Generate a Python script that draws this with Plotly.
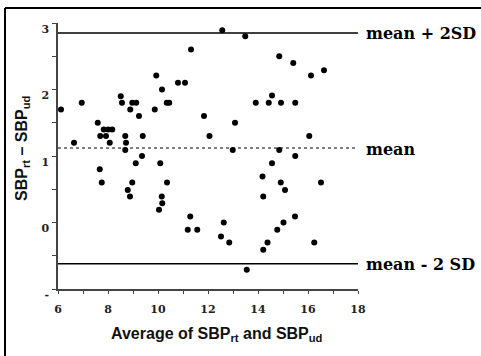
import plotly.graph_objects as go

# Data
avg_sbp = [6.12, 6.64, 6.95, 7.59, 7.83, 8.01, 8.17, 7.69, 7.92, 8.07, 7.67, 7.75,
           8.51, 8.56, 8.69, 8.72, 8.69, 8.89, 8.97, 9.13, 9.24, 9.39, 9.36, 9.11,
           8.97, 8.79, 8.88, 9.87, 9.93, 10.16, 10.35, 10.45, 10.09, 10.36, 10.15,
           10.17, 10.04, 10.80, 11.08, 11.32, 11.84, 12.06, 11.29, 11.19, 11.57,
           12.57, 13.49, 13.08, 12.99, 12.63, 12.52, 12.85, 13.55, 14.85, 15.41,
           16.12, 16.64, 14.56, 13.91, 14.43, 14.92, 15.49, 16.05, 14.85, 15.49,
           14.56, 14.18, 14.91, 15.08, 16.52, 14.21, 15.48, 15.02, 14.77, 14.38,
           14.21, 16.25]
diff_sbp = [1.70, 1.20, 1.80, 1.50, 1.40, 1.40, 1.40, 1.30, 1.30, 1.20, 0.80, 0.60,
            1.90, 1.80, 1.30, 1.20, 1.09, 1.70, 1.80, 1.80, 1.60, 1.30, 1.00, 0.89,
            0.60, 0.49, 0.39, 1.70, 2.21, 2.00, 1.80, 1.80, 0.89, 0.60, 0.39,
            0.29, 0.19, 2.10, 2.10, 2.60, 1.60, 1.30, 0.09, -0.11, -0.11,
            2.89, 2.80, 1.50, 1.09, 0.00, -0.21, -0.30, -0.71, 2.50, 2.40,
            2.21, 2.29, 1.91, 1.80, 1.80, 1.80, 1.80, 1.30, 1.09, 1.00,
            0.89, 0.69, 0.60, 0.49, 0.60, 0.39, 0.09, 0.00, -0.11, -0.30,
            -0.41, -0.30]

mean_diff = 1.12
upper_loa = 2.85
lower_loa = -0.62
ref_labels = ["mean + 2SD", "mean", "mean - 2 SD"]
ref_values = [upper_loa, mean_diff, lower_loa]
ref_dash = ["solid", "dot", "solid"]

x_ticks = [6, 8, 10, 12, 14, 16, 18]
y_ticks = [-1, 0, 1, 2, 3]
y_ticktext = ["-", "0", "1", "2", "3"]

W, H = 481, 356
ML, MR, MT, MB = 58, 123, 23, 67
PW, PH = W - ML - MR, H - MT - MB


def px_to_paper_x(px):
    return (px - ML) / PW


def py_to_paper_y(py):
    return (H - MB - py) / PH


fig = go.Figure()
fig.add_trace(go.Scatter(
    x=avg_sbp, y=diff_sbp, mode="markers",
    marker=dict(color="black", size=6, line=dict(width=0)),
    showlegend=False, cliponaxis=False,
))

shapes = []
annotations = []
for lab, val, dsh in zip(ref_labels, ref_values, ref_dash):
    shapes.append(dict(type="line", xref="x", yref="y", x0=6, x1=18, y0=val, y1=val,
                       line=dict(color="black", width=1 if dsh == "dot" else 1.6, dash=dsh)))
    annotations.append(dict(x=18, y=val, xref="x", yref="y", text=lab, showarrow=False,
                            xanchor="left", yanchor="middle", xshift=6, yshift=-1,
                            font=dict(family="DejaVu Serif", size=16, color="black", weight="bold")))

# outer frame (top and left edges of the scanned figure)
shapes.append(dict(type="line", xref="paper", yref="paper",
                   x0=px_to_paper_x(5), x1=px_to_paper_x(481),
                   y0=py_to_paper_y(8), y1=py_to_paper_y(8),
                   line=dict(color="black", width=2)))
shapes.append(dict(type="line", xref="paper", yref="paper",
                   x0=px_to_paper_x(5), x1=px_to_paper_x(5),
                   y0=py_to_paper_y(8), y1=py_to_paper_y(356),
                   line=dict(color="black", width=2)))

# axis titles
annotations.append(dict(x=px_to_paper_x(217), y=py_to_paper_y(334), xref="paper", yref="paper",
                        text="Average of SBP<sub>rt</sub> and SBP<sub>ud</sub>",
                        showarrow=False, xanchor="center", yanchor="middle",
                        font=dict(family="Liberation Sans", size=16, color="#111", weight="bold")))
annotations.append(dict(x=px_to_paper_x(22), y=py_to_paper_y(148), xref="paper", yref="paper",
                        text="SBP<sub>rt</sub> \u2013 SBP<sub>ud</sub>", textangle=-90,
                        showarrow=False, xanchor="center", yanchor="middle",
                        font=dict(family="Liberation Sans", size=16, color="#111", weight="bold")))

tick_font = dict(family="DejaVu Serif", size=11, color="#222", weight="bold")

fig.update_layout(
    width=W, height=H,
    margin=dict(l=ML, r=MR, t=MT, b=MB, pad=0),
    paper_bgcolor="white", plot_bgcolor="white",
    shapes=shapes, annotations=annotations,
    xaxis=dict(range=[6, 18], tickvals=x_ticks, ticks="outside", ticklen=3, tickwidth=1,
               tickcolor="#444", showline=True, linecolor="#444", linewidth=1.5,
               showgrid=False, zeroline=False, tickfont=tick_font, ticklabelstandoff=6,
               minor=dict(dtick=1, ticks="outside", ticklen=3, tickcolor="#444", showgrid=False)),
    yaxis=dict(range=[-1, 3], tickvals=y_ticks, ticktext=y_ticktext, ticks="outside",
               ticklen=4, tickwidth=1, tickcolor="#444", showline=True, linecolor="#444",
               linewidth=1.5, showgrid=False, zeroline=False, tickfont=tick_font,
               ticklabelshift=6, ticklabelstandoff=1,
               minor=dict(dtick=0.5, ticks="outside", ticklen=4, tickcolor="#444", showgrid=False)),
)

fig.write_html("out.html")
